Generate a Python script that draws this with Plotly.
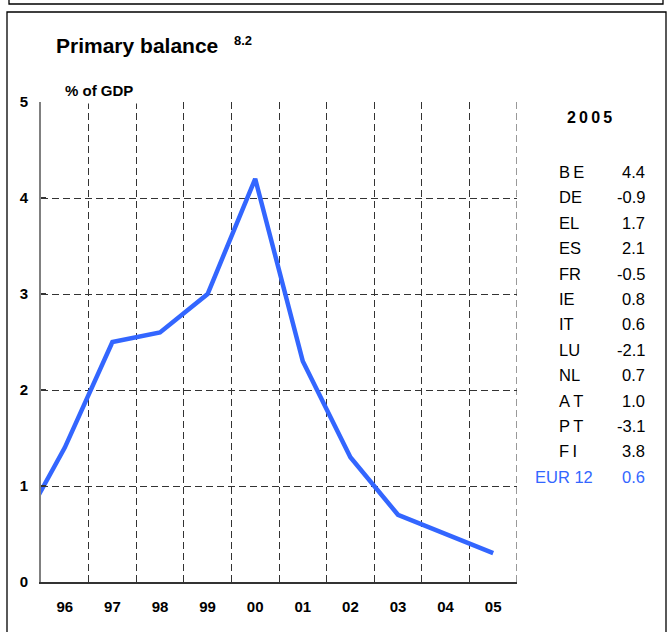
import plotly.graph_objects as go

# Primary balance, euro area (% of GDP), annual values
years = [95, 96, 97, 98, 99, 100, 101, 102, 103, 104, 105]
balance = [0.5, 1.4, 2.5, 2.6, 3.0, 4.2, 2.3, 1.3, 0.7, 0.5, 0.3]
year_labels = ["96", "97", "98", "99", "00", "01", "02", "03", "04", "05"]
label_years = [96, 97, 98, 99, 100, 101, 102, 103, 104, 105]
y_ticks = [0, 1, 2, 3, 4, 5]

# 2005 country table
countries = ["B\u2009E", "DE", "EL", "ES", "FR", "IE", "IT", "LU", "NL",
             "A\u2009T", "P\u2009T", "F\u2009I", "EUR 12"]
values_2005 = ["4.4", "-0.9", "1.7", "2.1", "-0.5", "0.8", "0.6", "-2.1",
               "0.7", "1.0", "-3.1", "3.8", "0.6"]

W, H = 668, 632
L, R, T, B = 41, 517, 102, 582
BLUE = "#3366ff"
GRID = "#333333"
FONT = "Liberation Sans, Arial, sans-serif"


def fx(px):
    return (px - L) / (R - L)


def fy(py):
    return (B - py) / (B - T)


fig = go.Figure()
fig.add_trace(go.Scatter(
    x=years, y=balance, mode="lines",
    line=dict(color=BLUE, width=4.5),
    cliponaxis=True, showlegend=False, hoverinfo="skip",
))

dash = "7px,4px"
fig.update_layout(
    width=W, height=H, autosize=False,
    margin=dict(l=L, r=W - R, t=T, b=H - B, pad=0),
    paper_bgcolor="white", plot_bgcolor="white",
    font=dict(family=FONT, color="black"),
    xaxis=dict(
        range=[95.5, 105.5], tickmode="array", tickvals=label_years,
        ticktext=year_labels, showgrid=False, zeroline=False,
        showline=True, linecolor=GRID, linewidth=1.5,
        ticks="", ticklabelstandoff=10,
        tickfont=dict(family=FONT, size=15, color="black", weight="bold"),
        minor=dict(tickmode="array",
                   tickvals=[y + 0.5 for y in label_years],
                   showgrid=True, griddash=dash, gridcolor=GRID,
                   gridwidth=1),
    ),
    yaxis=dict(
        range=[0, 5], tickmode="array", tickvals=y_ticks,
        showgrid=True, griddash=dash, gridcolor=GRID, gridwidth=1,
        zeroline=False, showline=True, linecolor="#808080", linewidth=2,
        ticks="inside", ticklen=5, tickcolor=GRID, tickwidth=1.5,
        ticklabelstandoff=8,
        tickfont=dict(family=FONT, size=15, color="black", weight="bold"),
    ),
)

shapes = [
    # outer frames
    dict(type="rect", xref="paper", yref="paper",
         x0=fx(9), x1=fx(663), y0=fy(4), y1=fy(-20),
         line=dict(color="black", width=1.3)),
    dict(type="rect", xref="paper", yref="paper",
         x0=fx(7), x1=fx(666), y0=fy(660), y1=fy(12),
         line=dict(color="black", width=1.3)),
    # closing grid line on the right edge of the plot
    dict(type="line", xref="x", yref="y", x0=105.5, x1=105.5, y0=0, y1=5,
         line=dict(color=GRID, width=1, dash=dash), layer="below"),
    # clear the top grid line under the unit label
    dict(type="line", xref="paper", yref="y", x0=fx(L + 1), x1=fx(163),
         y0=5, y1=5, line=dict(color="white", width=3), layer="above"),
]
fig.update_layout(shapes=shapes)

ann = [
    dict(text="<b>Primary balance</b>", x=fx(54), y=fy(46),
         xanchor="left", yanchor="middle",
         font=dict(family=FONT, size=21, color="black")),
    dict(text="<b>8.2</b>", x=fx(232), y=fy(40), xanchor="left",
         yanchor="middle", font=dict(family=FONT, size=13, color="black")),
    dict(text="<b>% of GDP</b>", x=fx(63), y=fy(91), xanchor="left",
         yanchor="middle", font=dict(family=FONT, size=15, color="black")),
    dict(text="<b>2\u20090\u20090\u20095</b>", x=fx(589), y=fy(117),
         xanchor="center", yanchor="middle",
         font=dict(family=FONT, size=16, color="black")),
]

row0, step = 172, 25.4
for i, (c, v) in enumerate(zip(countries, values_2005)):
    yy = row0 + i * step
    col = BLUE if c == "EUR 12" else "black"
    ann.append(dict(text=c, x=fx(533 if c == "EUR 12" else 557), y=fy(yy),
                    xanchor="left", yanchor="middle",
                    font=dict(family=FONT, size=16.5, color=col)))
    ann.append(dict(text=v, x=fx(647), y=fy(yy), xanchor="right",
                    yanchor="middle",
                    font=dict(family=FONT, size=16.5, color=col)))

for a in ann:
    a.update(xref="paper", yref="paper", showarrow=False)
fig.update_layout(annotations=ann)

fig.write_html("out.html")
